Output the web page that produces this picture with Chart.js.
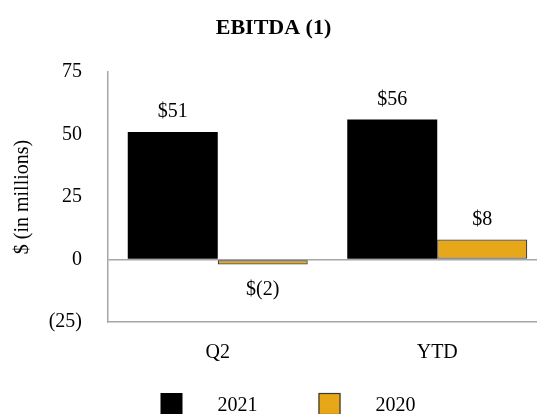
<!DOCTYPE html>
<html>
<head>
<meta charset="utf-8">
<script src="https://cdn.jsdelivr.net/npm/chart.js@4/dist/chart.umd.min.js"></script>
<style>
  html, body { margin: 0; padding: 0; background: #ffffff; overflow: hidden; }
  #wrap { width: 550px; height: 414px; }
</style>
</head>
<body>
<div id="wrap"><canvas id="c" width="550" height="414"></canvas></div>
<script>
// EBITDA, $ in millions
const categories = ['Q2', 'YTD'];
const seriesNames = ['2021', '2020'];
const values2021 = [51, 56];
const values2020 = [-2, 8];
const yTicks = [-25, 0, 25, 50, 75];

const FONT = "'Liberation Serif', 'Times New Roman', serif";
const GOLD = '#E6A719';
const AXIS_GREY = '#a6a6a6';

const fmtMoney = v => v < 0 ? '$(' + Math.abs(v) + ')' : '$' + v;
const fmtTick = v => v < 0 ? '(' + Math.abs(v) + ')' : String(v);

// value labels above positive bars, below negative ones
const valueLabels = {
  id: 'valueLabels',
  afterDatasetsDraw(chart) {
    const ctx = chart.ctx;
    ctx.save();
    ctx.font = '20px ' + FONT;
    ctx.fillStyle = '#000';
    ctx.textAlign = 'center';
    ctx.textBaseline = 'middle';
    chart.data.datasets.forEach((ds, i) => {
      chart.getDatasetMeta(i).data.forEach((bar, j) => {
        const v = ds.data[j];
        const y = v < 0 ? bar.y + 25 : bar.y - 20;
        ctx.fillText(fmtMoney(v), bar.x, y);
      });
    });
    ctx.restore();
  }
};

// legend row along the bottom
const bottomLegend = {
  id: 'bottomLegend',
  afterDraw(chart) {
    const ctx = chart.ctx;
    ctx.save();
    ctx.font = '20px ' + FONT;
    ctx.textBaseline = 'middle';
    ctx.textAlign = 'left';
    const box = 22, gap = 35, spacing = 61;
    const items = chart.data.datasets.map(ds => ({
      ds, w: box + gap + ctx.measureText(ds.label).width
    }));
    const total = items.reduce((s, it) => s + it.w, 0) + spacing * (items.length - 1);
    let x = chart.width / 2 + 13 - total / 2;
    const top = 393;
    items.forEach(it => {
      ctx.fillStyle = it.ds.backgroundColor;
      ctx.fillRect(x, top, box, box);
      if (it.ds.borderWidth) {
        ctx.strokeStyle = it.ds.borderColor;
        ctx.lineWidth = 1.2;
        ctx.strokeRect(x + 0.5, top + 0.5, box - 1, box - 1);
      }
      ctx.fillStyle = '#000';
      ctx.fillText(it.ds.label, x + box + gap, top + 13);
      x += it.w + spacing;
    });
    ctx.restore();
  }
};

new Chart(document.getElementById('c'), {
  type: 'bar',
  data: {
    labels: categories,
    datasets: [
      {
        label: seriesNames[0],
        data: values2021,
        backgroundColor: '#000000',
        borderWidth: 0,
        categoryPercentage: 0.82,
        barPercentage: 1.0
      },
      {
        label: seriesNames[1],
        data: values2020,
        backgroundColor: GOLD,
        borderColor: '#3a3a3a',
        borderWidth: 1.2,
        borderSkipped: false,
        categoryPercentage: 0.82,
        barPercentage: 1.0
      }
    ]
  },
  options: {
    responsive: false,
    animation: false,
    events: [],
    layout: { padding: { left: 0, right: 3, top: 0, bottom: 0 } },
    plugins: {
      legend: { display: false },
      tooltip: { enabled: false },
      title: {
        display: true,
        text: 'EBITDA (1)',
        color: '#000',
        font: { family: FONT, size: 22, weight: 'bold' },
        padding: { top: 15, bottom: 30.6 }
      }
    },
    scales: {
      x: {
        grid: { display: false },
        border: { display: true, color: AXIS_GREY, width: 1.5 },
        ticks: { color: '#000', font: { family: FONT, size: 20 }, padding: 11 },
        afterFit(scale) { scale.height = 92; }
      },
      y: {
        min: yTicks[0],
        max: yTicks[yTicks.length - 1],
        afterBuildTicks(scale) { scale.ticks = yTicks.map(v => ({ value: v })); },
        grid: {
          drawTicks: false,
          lineWidth: 1.5,
          color: c => (c.tick && c.tick.value === 0) ? AXIS_GREY : 'rgba(0,0,0,0)'
        },
        border: { display: true, color: AXIS_GREY, width: 1.5 },
        ticks: {
          color: '#000',
          font: { family: FONT, size: 20 },
          padding: 26,
          callback: v => fmtTick(v)
        },
        title: {
          display: true,
          text: '$ (in millions)',
          color: '#000',
          font: { family: FONT, size: 20 },
          padding: { top: 11, bottom: 0 }
        },
        afterFit(scale) { scale.width = 108; }
      }
    }
  },
  plugins: [valueLabels, bottomLegend]
});
</script>
</body>
</html>
